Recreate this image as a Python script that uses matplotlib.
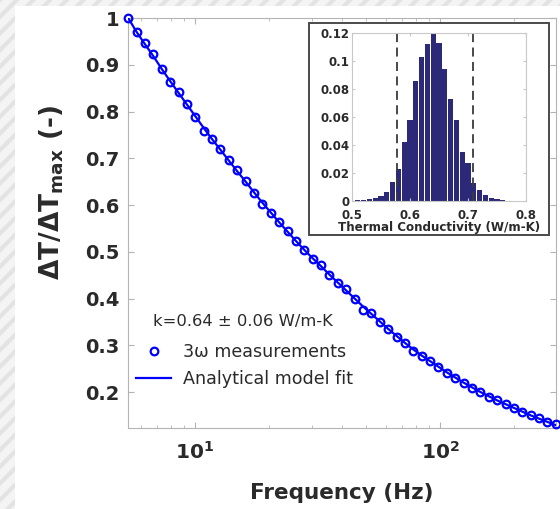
import matplotlib
matplotlib.use("Agg")
import matplotlib.pyplot as plt
from matplotlib.patches import Rectangle
from matplotlib.ticker import FormatStrFormatter

plt.rcParams['font.family'] = ['DejaVu Sans']
plt.rcParams['mathtext.default'] = 'bf'
plt.rcParams['hatch.linewidth'] = 3.0

# 3-omega data
freq = [5.34, 5.78, 6.25, 6.77, 7.32, 7.92, 8.57, 9.27, 10.03, 10.85,
        11.74, 12.71, 13.75, 14.88, 16.10, 17.42, 18.84, 20.39, 22.06, 23.87,
        25.83, 27.94, 30.24, 32.71, 35.40, 38.30, 41.44, 44.84, 48.51, 52.49,
        56.80, 61.45, 66.49, 71.95, 77.84, 84.23, 91.13, 98.61, 106.7, 115.4,
        124.9, 135.1, 146.2, 158.2, 171.2, 185.2, 200.4, 216.8, 234.6, 253.8,
        274.6, 297.2]
dT_meas = [1.000, 0.969, 0.946, 0.923, 0.890, 0.864, 0.841, 0.816, 0.789, 0.759,
           0.742, 0.720, 0.696, 0.674, 0.651, 0.625, 0.602, 0.582, 0.564, 0.545,
           0.523, 0.504, 0.484, 0.472, 0.451, 0.433, 0.420, 0.400, 0.375, 0.368,
           0.350, 0.334, 0.317, 0.304, 0.288, 0.276, 0.266, 0.253, 0.241, 0.231,
           0.220, 0.209, 0.199, 0.190, 0.183, 0.174, 0.165, 0.158, 0.151, 0.144,
           0.136, 0.131]
dT_fit = [1.000, 0.970, 0.944, 0.918, 0.891, 0.865, 0.840, 0.815, 0.790, 0.765,
          0.741, 0.718, 0.695, 0.672, 0.650, 0.627, 0.605, 0.584, 0.563, 0.543,
          0.523, 0.504, 0.486, 0.469, 0.451, 0.434, 0.417, 0.400, 0.383, 0.367,
          0.351, 0.335, 0.320, 0.305, 0.291, 0.278, 0.266, 0.254, 0.242, 0.231,
          0.220, 0.210, 0.200, 0.191, 0.182, 0.174, 0.166, 0.158, 0.150, 0.143,
          0.136, 0.129]

# histogram of fitted conductivity
k_bins = [0.51, 0.52, 0.53, 0.54, 0.55, 0.56, 0.57, 0.58, 0.59, 0.60,
          0.61, 0.62, 0.63, 0.64, 0.65, 0.66, 0.67, 0.68, 0.69, 0.70,
          0.71, 0.72, 0.73, 0.74, 0.75, 0.76]
k_prob = [0.0005, 0.0010, 0.0014, 0.0024, 0.0038, 0.0062, 0.0135, 0.023, 0.042, 0.058,
          0.086, 0.103, 0.112, 0.119, 0.113, 0.094, 0.073, 0.058, 0.035, 0.027,
          0.013, 0.008, 0.0045, 0.0024, 0.0012, 0.0005]
k_bounds = [0.577, 0.708]

y_ticks = [0.2, 0.3, 0.4, 0.5, 0.6, 0.7, 0.8, 0.9, 1.0]
x_ticks = [10, 100]
x_ticklabels = [r'$\mathbf{10^{1}}$', r'$\mathbf{10^{2}}$']
hist_yticks = [0, 0.02, 0.04, 0.06, 0.08, 0.1, 0.12]
hist_xticks = [0.5, 0.6, 0.7, 0.8]

txt = '#2a2a2a'
spine = '#b4b4b4'

fig = plt.figure(figsize=(5.6, 5.09), dpi=100)
# striped frame on the left and top
fig.patches.append(Rectangle((0, 0), 1, 1, transform=fig.transFigure,
                             facecolor='#f4f4f4', edgecolor='#e3e3e3',
                             hatch='//', lw=0, zorder=-3))
fig.patches.append(Rectangle((15 / 560, 0), 1, (509 - 6) / 509,
                             transform=fig.transFigure, facecolor='white',
                             edgecolor='none', zorder=-2))

ax = fig.add_axes([128 / 560, 81 / 509, 428 / 560, 410 / 509])
ax.plot(freq, dT_fit, color='#0000ff', lw=1.6, zorder=3,
        label='Analytical model fit')
ax.plot(freq, dT_meas, 'o', mfc='none', mec='#0000ff', mew=1.6, ms=5.5,
        zorder=4, clip_on=False, label='3\u03c9 measurements')
ax.set_xscale('log')
ax.set_xlim(5.33, 297.5)
ax.set_ylim(0.123, 1.0)
ax.set_yticks(y_ticks)
ax.yaxis.set_major_formatter(FormatStrFormatter('%g'))
ax.set_xticks(x_ticks, x_ticklabels)
for s in ax.spines.values():
    s.set_color(spine)
ax.tick_params(which='both', direction='in', top=True, right=True,
               color=spine, labelcolor=txt)
ax.tick_params(which='major', length=4, labelsize=14, pad=6)
ax.tick_params(axis='x', which='major', labelsize=14.5, pad=9)
ax.tick_params(which='minor', length=2.5)
for lab in ax.get_yticklabels():
    lab.set_fontweight('bold')
ax.set_xlabel('Frequency (Hz)', fontsize=15.5, fontweight='bold', color=txt)
ax.set_ylabel(r'$\Delta$T/$\Delta$T$_{\mathbf{max}}$ (-)', fontsize=19,
              fontweight='bold', color=txt)
ax.yaxis.set_label_coords(-0.145, 0.575)
ax.xaxis.set_label_coords(0.5, -0.135)

handles, labels = ax.get_legend_handles_labels()
leg = ax.legend(handles[::-1], labels[::-1], frameon=False, fontsize=12.6,
                loc='center left', bbox_to_anchor=(-0.018, 0.153),
                handlelength=2.0, handletextpad=0.7, labelspacing=0.5)
for t in leg.get_texts():
    t.set_color(txt)
ax.text(0.058, 0.259, 'k=0.64 \u00b1 0.06 W/m-K', transform=ax.transAxes,
        fontsize=11.8, color=txt, va='center', ha='left')

# inset
fig.patches.append(Rectangle((309 / 560, 274 / 509), 240 / 560, 212 / 509,
                             transform=fig.transFigure, facecolor='white',
                             edgecolor='#4a4a4a', lw=1.4, zorder=1))
ins = fig.add_axes([352 / 560, 308 / 509, 174 / 560, 168 / 509], zorder=2)
ins.bar(k_bins, k_prob, width=0.0088, color='#2c2a78', edgecolor='none')
for b in k_bounds:
    ins.axvline(b, color='#3a3a3a', lw=1.3, ls=(0, (5, 3)))
ins.set_xlim(0.5, 0.8)
ins.set_ylim(0, 0.12)
ins.set_xticks(hist_xticks)
ins.set_yticks(hist_yticks)
ins.yaxis.set_major_formatter(FormatStrFormatter('%g'))
ins.xaxis.set_major_formatter(FormatStrFormatter('%g'))
for s in ins.spines.values():
    s.set_color('#c8c8c8')
ins.tick_params(direction='in', top=True, right=True, length=2.5,
                color='#c8c8c8', labelcolor=txt, labelsize=8.5, pad=2)
ins.tick_params(axis='x', pad=6)
for lab in ins.get_xticklabels() + ins.get_yticklabels():
    lab.set_fontweight('bold')
ins.set_xlabel('Thermal Conductivity (W/m-K)', fontsize=8.6,
               fontweight='bold', color=txt, labelpad=-1)

fig.savefig('out.png', dpi=100, facecolor='white')
